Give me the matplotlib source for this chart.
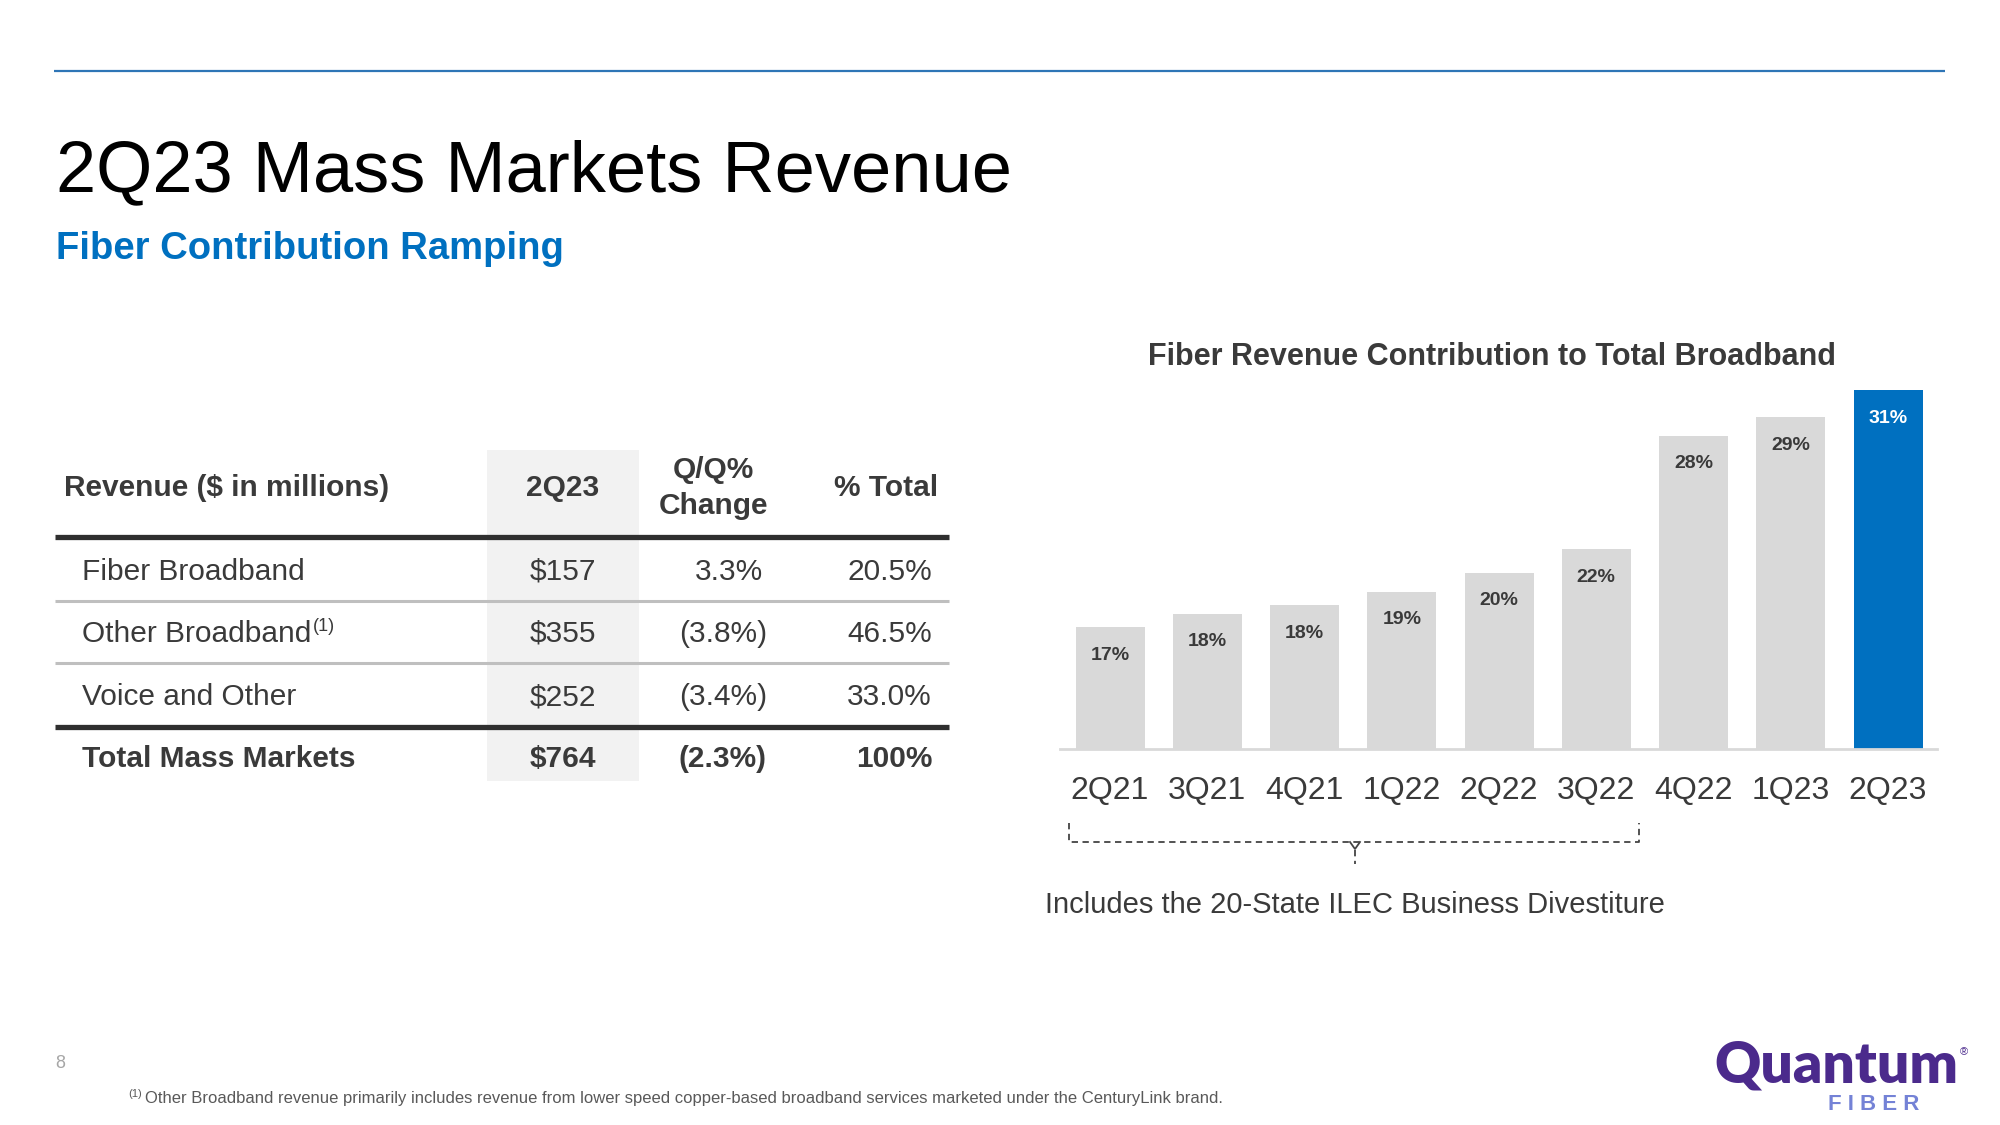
import matplotlib
matplotlib.use("Agg")
import matplotlib.pyplot as plt
from matplotlib.patches import Rectangle

plt.rcParams['font.family'] = ['Liberation Sans', 'DejaVu Sans']

# ---------------- data ----------------
quarters = ['2Q21', '3Q21', '4Q21', '1Q22', '2Q22', '3Q22', '4Q22', '1Q23', '2Q23']
fiber_share = [17.0, 17.8, 18.3, 19.1, 20.2, 21.6, 28.3, 29.4, 31.0]

table_header = ['Revenue ($ in millions)', '2Q23', 'Q/Q%\nChange', '% Total']
table_rows = ['Fiber Broadband', 'Other Broadband', 'Voice and Other', 'Total Mass Markets']
rev_2q23 = ['$157', '$355', '$252', '$764']
qq_change = ['3.3%', '(3.8%)', '(3.4%)', '(2.3%)']
pct_total = ['20.5%', '46.5%', '33.0%', '100%']

title = '2Q23 Mass Markets Revenue'
subtitle = 'Fiber Contribution Ramping'
chart_title = 'Fiber Revenue Contribution to Total Broadband'
bracket_note = 'Includes the 20-State ILEC Business Divestiture'
footnote = ('Other Broadband revenue primarily includes revenue from lower speed '
            'copper-based broadband services marketed under the CenturyLink brand.')

# ---------------- style ----------------
W, H = 2000, 1125
DARK = '#3a3a3a'
BLUE = '#0070C0'
GREY_BAR = '#d9d9d9'

fig = plt.figure(figsize=(20, 11.25), dpi=100)
fig.patch.set_facecolor('white')

# overlay axes in pixel coordinates (y downward)
ov = fig.add_axes([0, 0, 1, 1])
ov.set_xlim(0, W)
ov.set_ylim(H, 0)
ov.set_axis_off()

# top rule
ov.plot([54, 1945], [71, 71], color='#2E75B6', lw=1.6, solid_capstyle='butt')

# titles
ov.text(56, 173, title, fontsize=52, color='black', va='center', ha='left')
ov.text(56, 249, subtitle, fontsize=27.5, color=BLUE, fontweight='bold',
        va='center', ha='left')

# ---------------- table ----------------
ov.add_patch(Rectangle((487, 450), 152, 331, facecolor='#f2f2f2', edgecolor='none', zorder=0))

hdr_y = 488
ov.text(64, hdr_y, table_header[0], fontsize=21.5, fontweight='bold', color=DARK,
        va='center', ha='left')
ov.text(563, hdr_y, table_header[1], fontsize=21.5, fontweight='bold', color=DARK,
        va='center', ha='center')
ov.text(713, hdr_y, table_header[2], fontsize=21.5, fontweight='bold', color=DARK,
        va='center', ha='center', linespacing=1.35)
ov.text(886, hdr_y, table_header[3], fontsize=21.5, fontweight='bold', color=DARK,
        va='center', ha='center')

ov.plot([55, 949], [537, 537], color='#2f2f2f', lw=3.8, solid_capstyle='butt')
ov.plot([55, 949], [601, 601], color='#bfbfbf', lw=2.2, solid_capstyle='butt')
ov.plot([55, 949], [663, 663], color='#bfbfbf', lw=2.2, solid_capstyle='butt')
ov.plot([55, 949], [727, 727], color='#2f2f2f', lw=3.8, solid_capstyle='butt')

row_y = [572, 634, 697, 759]
for i, (lab, rv, qq, pt) in enumerate(zip(table_rows, rev_2q23, qq_change, pct_total)):
    bold = (i == len(table_rows) - 1)
    fw = 'bold' if bold else 'normal'
    y = row_y[i]
    t = ov.text(82, y, lab, fontsize=21.5, fontweight=fw, color=DARK, va='center', ha='left')
    if lab == 'Other Broadband':
        ov.annotate('(1)', xy=(1, 1), xycoords=t, xytext=(2, 2), textcoords='offset pixels',
                    fontsize=13, color=DARK, va='top', ha='left')
    ov.text(563, y, rv, fontsize=21.5, fontweight=fw, color=DARK, va='center', ha='center')
    qx = 767 if qq.endswith(')') else 763
    ov.text(qx, y, qq, fontsize=21.5, fontweight=fw, color=DARK, va='center', ha='right')
    ov.text(932, y, pt, fontsize=21.5, fontweight=fw, color=DARK, va='center', ha='right')

# ---------------- bar chart ----------------
base_px, top_px = 749, 380
left_px, right_px = 1060, 1937
first_c, last_c = 1110, 1888
step = (last_c - first_c) / (len(quarters) - 1)
ymin = 9.8
top_bar_px = 390
ppu = (base_px - top_bar_px) / (max(fiber_share) - ymin)
ymax = ymin + (base_px - top_px) / ppu

ax = fig.add_axes([left_px / W, 1 - base_px / H, (right_px - left_px) / W, (base_px - top_px) / H])
ax.patch.set_alpha(0)
xs = list(range(len(quarters)))
colors = [GREY_BAR] * (len(quarters) - 1) + [BLUE]
ax.bar(xs, fiber_share, width=69 / step, color=colors, zorder=2)
ax.set_xlim(-(first_c - left_px) / step, len(quarters) - 1 + (right_px - last_c) / step)
ax.set_ylim(ymin, ymax)
for s in ['top', 'right', 'left']:
    ax.spines[s].set_visible(False)
ax.spines['bottom'].set_color('#d9d9d9')
ax.spines['bottom'].set_linewidth(2)
ax.set_yticks([])
ax.set_xticks(xs)
ax.set_xticklabels(quarters, fontsize=23, color=DARK)
ax.tick_params(axis='x', length=0, pad=19.5)

for i, v in enumerate(fiber_share):
    ax.annotate(f'{v:.0f}%', xy=(i, v), xytext=(0, -28), textcoords='offset pixels',
                ha='center', va='center', fontsize=14, fontweight='bold',
                color='white' if i == len(fiber_share) - 1 else DARK, zorder=3)

ov.text(1492, 357, chart_title, fontsize=22, fontweight='bold', color=DARK,
        va='center', ha='center')

# bracket under first six quarters
bk = dict(color='#444444', lw=1.3, linestyle=(0, (3.5, 2.5)))
ov.plot([1069, 1069, 1639, 1639], [823, 842, 842, 823], **bk)
ov.plot([1350, 1355, 1360], [842, 849, 842], color='#444444', lw=1.3)
ov.plot([1355, 1355], [850, 864], **bk)
ov.text(1355, 905, bracket_note, fontsize=21, color=DARK, va='center', ha='center')

# ---------------- footer ----------------
ov.text(60, 1064, '8', fontsize=13, color='#a6a6a6', va='center', ha='center')
ov.text(128, 1094, '(1)', fontsize=8, color='#595959', va='center', ha='left')
ov.text(145, 1099, footnote, fontsize=12, color='#595959', va='center', ha='left')

# logo (text rendition)
ov.text(1836, 1066, 'Quantum', fontsize=41, fontweight='heavy', family=['Lato', 'DejaVu Sans'],
        color='#4B2A8C', va='center', ha='center')
ov.text(1964, 1052, '®', fontsize=8, color='#4B2A8C', va='center', ha='center')
ov.text(1874, 1105, 'F I B E R', fontsize=16, fontweight='bold', color='#7482D6',
        va='center', ha='center')

fig.savefig('out.png', dpi=100, facecolor='white')
